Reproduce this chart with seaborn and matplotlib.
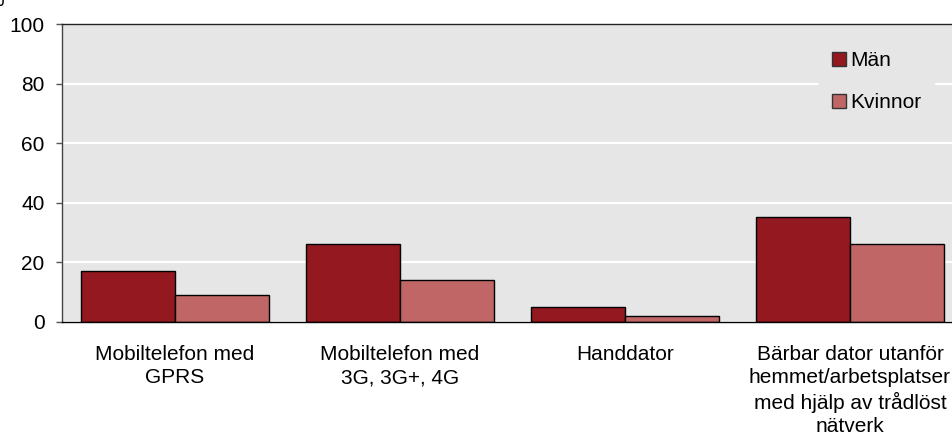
import matplotlib
matplotlib.use("Agg")
import matplotlib.pyplot as plt
import seaborn as sns
import pandas as pd
from matplotlib.patches import Patch

categories = ["Mobiltelefon med\nGPRS", "Mobiltelefon med\n3G, 3G+, 4G", "Handdator",
              "Bärbar dator utanför\nhemmet/arbetsplatser\nmed hjälp av trådlöst\nnätverk"]
series = ["Män", "Kvinnor"]
man_values = [17, 26, 5, 35]
kvinnor_values = [9, 14, 2, 26]
yticks = [0, 20, 40, 60, 80, 100]
colors = ["#931820", "#C06666"]

df = pd.DataFrame({
    "kategori": categories * 2,
    "grupp": [series[0]] * 4 + [series[1]] * 4,
    "värde": man_values + kvinnor_values,
})

sns.set_theme(style="white")
plt.rcParams["font.family"] = ["Liberation Sans", "DejaVu Sans"]
plt.rcParams["text.color"] = "black"
FS = 15

fig = plt.figure(figsize=(9.53, 4.42), dpi=100)
ax = fig.add_axes([0.0651, 0.2726, 0.9349, 0.6731])
ax.set_facecolor("#E6E6E6")

sns.barplot(data=df, x="kategori", y="värde", hue="grupp", palette=colors,
            width=0.836, edgecolor="black", linewidth=1, ax=ax, legend=False,
            saturation=1)

ax.set_ylim(0, 100)
ax.set_xlim(-0.502, 3.458)
ax.set_yticks(yticks)
ax.set_yticklabels([str(t) for t in yticks], fontsize=FS, color="black")
ax.yaxis.grid(True, color="white", linewidth=1.6)
ax.set_axisbelow(True)
ax.tick_params(axis="y", left=True, length=4.5, width=1, color="#555555", pad=8)
ax.tick_params(axis="x", bottom=False, length=0, pad=17)
for lbl in ax.get_xticklabels():
    lbl.set_fontsize(FS)
    lbl.set_color("black")
    lbl.set_linespacing(1.28)
    lbl.set_verticalalignment("top")
ax.set_xlabel("")
ax.set_ylabel("")

for s in ["top", "bottom", "left"]:
    ax.spines[s].set_visible(True)
    ax.spines[s].set_linewidth(1)
ax.spines["top"].set_color("#222222")
ax.spines["bottom"].set_color("black")
ax.spines["left"].set_color("#444444")
ax.spines["right"].set_visible(False)

handles = [Patch(facecolor=c, edgecolor="#333333", linewidth=1) for c in colors]
leg = ax.legend(handles, series, loc="upper left", bbox_to_anchor=(0.838, 0.985),
                frameon=True, fontsize=FS, handlelength=0.7, handleheight=0.7,
                handletextpad=0.2, labelspacing=1.1, borderpad=0.6, fancybox=False)
leg.get_frame().set_facecolor("#E6E6E6")
leg.get_frame().set_edgecolor("#E6E6E6")
leg.get_frame().set_alpha(1)
for t in leg.get_texts():
    t.set_color("black")

fig.text(0.004, 1.0, "%", fontsize=FS, va="center", ha="right")

fig.savefig("out.png", dpi=100)
